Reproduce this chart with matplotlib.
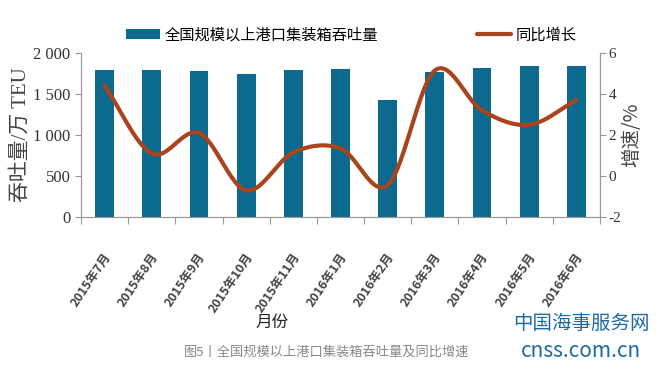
import matplotlib.pyplot as plt
import numpy as np

plt.rcParams['font.family'] = ['Noto Sans CJK SC', 'DejaVu Sans']

months = ["2015年7月", "2015年8月", "2015年9月", "2015年10月", "2015年11月", "2016年1月",
          "2016年2月", "2016年3月", "2016年4月", "2016年5月", "2016年6月"]
throughput = [1790, 1790, 1778, 1738, 1790, 1805, 1428, 1772, 1813, 1842, 1842]
growth = [4.4, 1.1, 2.1, -0.7, 1.15, 1.35, -0.45, 5.15, 3.2, 2.5, 3.7]


def smooth(x, y, n=30):
    # catmull-rom through the points, like excel's smoothed line
    x = np.asarray(x, float)
    y = np.asarray(y, float)
    px = np.concatenate([[2 * x[0] - x[1]], x, [2 * x[-1] - x[-2]]])
    py = np.concatenate([[2 * y[0] - y[1]], y, [2 * y[-1] - y[-2]]])
    xs, ys = [], []
    t = np.linspace(0, 1, n)
    for i in range(1, len(px) - 2):
        for p, out in ((px, xs), (py, ys)):
            p0, p1, p2, p3 = p[i - 1], p[i], p[i + 1], p[i + 2]
            out.extend(0.5 * (2 * p1 + (-p0 + p2) * t + (2 * p0 - 5 * p1 + 4 * p2 - p3) * t ** 2
                              + (-p0 + 3 * p1 - 3 * p2 + p3) * t ** 3))
    return np.array(xs), np.array(ys)


fig = plt.figure(figsize=(6.57, 3.66), dpi=100)
ax = fig.add_axes([81 / 657, 1 - 217 / 366, (600 - 81) / 657, (217 - 53) / 366])
x = np.arange(len(months))
bars = ax.bar(x, throughput, width=0.4, color='#0b6a8e', zorder=2)
ax.set_xlim(-0.5, len(months) - 0.5)
ax.set_ylim(0, 2000)
ax.set_yticks([0, 500, 1000, 1500, 2000])
ax.set_yticklabels(["0", "500", "1 000", "1 500", "2 000"], family='Liberation Serif',
                   fontsize=12, color='#333333')
ax.set_xticks(np.arange(-0.5, len(months), 1))
ax.set_xticklabels([])
ax.set_xticks(x + 0.08, minor=True)
ax.set_xticklabels(months, minor=True, rotation=56, ha='right', va='center', fontsize=9,
                   fontweight='bold', fontstyle='italic', color='#444444',
                   rotation_mode='anchor')
ax.tick_params(axis='x', which='minor', length=0, pad=27)
ax.tick_params(axis='x', which='major', length=5, color='#999999')
ax.tick_params(axis='y', length=4, color='#999999', direction='out')
for s in ['top']:
    ax.spines[s].set_visible(False)
for s in ['left', 'bottom', 'right']:
    ax.spines[s].set_color('#999999')
ax.set_ylabel("吞吐量/万 TEU", fontsize=15, color='#444444', labelpad=2,
              family=['Liberation Serif', 'Noto Sans CJK SC'])
ax.set_xlabel("月份", fontsize=12, color='#222222')
ax.xaxis.set_label_coords((272 - 81) / (600 - 81), -(314 - 217) / (217 - 53))

ax2 = ax.twinx()
sx, sy = smooth(x, growth)
line, = ax2.plot(sx, sy, color='#a9441c', lw=3, solid_capstyle='round', zorder=3)
ax2.set_ylim(-2, 6)
ax2.set_yticks([-2, 0, 2, 4, 6])
ax2.set_yticklabels(["-2", "0", "2", "4", "6"], family='Liberation Serif', fontsize=11,
                    color='#333333')
ax2.tick_params(axis='y', length=4, color='#999999', pad=2)
for s in ['top']:
    ax2.spines[s].set_visible(False)
for s in ['left', 'bottom', 'right']:
    ax2.spines[s].set_color('#999999')
ax2.set_ylabel("增速/%", fontsize=14, color='#444444', labelpad=0)

fig.legend([bars, line], ["全国规模以上港口集装箱吞吐量", "同比增长"], loc='center',
           bbox_to_anchor=(0.535, 0.905), ncol=2, frameon=False, fontsize=11,
           columnspacing=6.5, handlelength=2.2, handletextpad=0.3)

fig.text(0.497, 0.037, "图5丨全国规模以上港口集装箱吞吐量及同比增速", ha='center', va='center',
         fontsize=9.5, color='#888888')
fig.text(0.885, 0.115, "中国海事服务网", ha='center', va='center', fontsize=14,
         color='#1a6aa8')
fig.text(0.885, 0.04, "cnss.com.cn", ha='center', va='center', fontsize=15,
         color='#1a6aa8')

fig.savefig("out.png", dpi=100)
